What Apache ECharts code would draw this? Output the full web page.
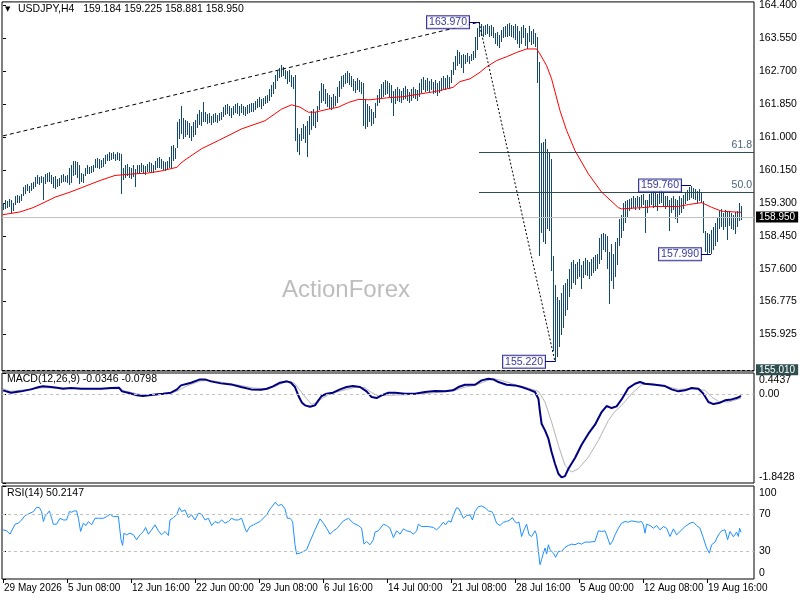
<!DOCTYPE html>
<html><head><meta charset="utf-8">
<script src="https://cdn.jsdelivr.net/npm/echarts@6/dist/echarts.min.js"></script>
<style>html,body{margin:0;padding:0;background:#fff}#c{width:800px;height:600px}</style>
</head><body><div id="c"></div>
<script>
// ---------- data ----------
const xTickBars = [0,32,64,96,128,160,192,224,256,288,320,352];
const xTickLabels = ['29 May 2026','5 Jun 08:00','12 Jun 16:00','22 Jun 00:00','29 Jun 08:00','6 Jul 16:00','14 Jul 00:00','21 Jul 08:00','28 Jul 16:00','5 Aug 00:00','12 Aug 08:00','19 Aug 16:00'];
const priceTicks = [164.4,163.55,162.7,161.85,161.0,160.15,159.3,158.45,157.6,156.775,155.925];
const macdTicks = [0.4437, 0, -1.8428];
const rsiTicks = [100, 70, 30, 0];
const rsiLevels = [70, 30];

const barHigh = [
159.32,159.40,159.36,159.42,159.38,159.30,159.48,159.52,159.50,159.55,
159.72,159.78,159.80,159.76,159.82,159.85,159.98,160.02,159.99,160.00,
159.98,160.05,160.08,160.10,160.04,159.98,160.00,159.92,159.95,160.02,
160.05,160.00,160.04,160.20,160.30,160.38,160.40,160.36,160.28,160.08,
160.05,160.22,160.28,160.25,160.26,160.30,160.44,160.48,160.45,160.42,
160.46,160.55,160.58,160.62,160.60,160.62,160.58,160.62,160.60,160.58,
160.22,160.30,160.32,160.25,160.20,160.28,160.18,160.30,160.28,160.34,
160.30,160.26,160.32,160.36,160.33,160.30,160.40,160.46,160.50,160.44,
160.40,160.36,160.38,160.50,160.78,160.80,160.72,161.40,161.48,161.82,
161.50,161.46,161.42,161.38,161.30,161.40,161.45,161.60,161.70,161.65,
161.92,161.65,161.60,161.62,161.55,161.60,161.64,161.58,161.62,161.66,
161.78,161.84,161.86,161.80,161.76,161.82,161.85,161.88,161.82,161.85,
161.80,161.78,161.84,161.86,161.90,161.88,161.94,162.00,162.05,161.98,
162.02,162.08,162.10,162.25,162.35,162.42,162.60,162.72,162.78,162.86,
162.82,162.75,162.70,162.74,162.62,162.55,162.62,161.25,161.10,161.25,
161.35,161.30,161.42,161.55,161.68,161.72,161.65,161.80,162.20,162.40,
162.38,162.25,162.15,162.10,162.05,162.12,162.08,162.30,162.45,162.58,
162.62,162.66,162.72,162.65,162.58,162.50,162.45,162.52,162.48,162.44,
162.40,162.00,161.85,161.80,161.72,161.65,161.88,162.10,162.25,162.38,
162.42,162.48,162.45,162.40,162.35,162.20,162.25,162.30,162.25,162.20,
162.28,162.32,162.25,162.18,162.24,162.30,162.26,162.22,162.40,162.50,
162.55,162.48,162.52,162.46,162.50,162.44,162.48,162.40,162.45,162.52,
162.58,162.54,162.60,162.56,162.75,162.95,163.10,163.25,163.20,163.12,
163.15,163.12,163.18,163.10,163.16,163.22,163.60,163.82,163.97,163.92,
163.88,163.90,163.92,163.86,163.90,163.84,163.70,163.72,163.65,163.78,
163.85,163.88,163.92,163.95,163.90,163.86,163.92,163.88,163.75,163.85,
163.90,163.82,163.70,163.88,163.75,163.80,163.70,163.60,162.95,160.85,
160.88,160.95,160.70,160.60,160.45,157.95,157.20,156.90,156.80,157.00,
157.20,157.25,157.35,157.60,157.80,157.85,157.75,157.80,157.88,157.70,
157.82,157.90,157.85,157.78,157.88,157.92,157.96,158.00,158.40,158.52,
158.55,158.50,158.45,158.05,158.25,158.00,158.30,158.40,158.90,159.00,
159.30,159.35,159.40,159.42,159.45,159.48,159.44,159.50,159.46,159.52,
159.55,159.38,159.40,159.55,159.60,159.62,159.58,159.55,159.62,159.65,
159.58,159.50,159.48,159.40,159.45,159.50,159.42,159.40,159.48,159.45,
159.52,159.58,159.65,159.72,159.76,159.70,159.66,159.62,159.68,159.60,
159.35,158.60,158.55,158.50,158.62,158.70,158.80,158.95,159.10,159.15,
159.05,159.12,159.08,159.10,159.05,159.00,159.08,159.10,159.30,159.225];

const barLow = [
159.12,159.15,159.18,159.20,159.06,159.10,159.25,159.32,159.30,159.35,
159.50,159.55,159.62,159.58,159.62,159.66,159.72,159.80,159.78,159.82,
159.38,159.80,159.85,159.86,159.80,159.70,159.66,159.72,159.74,159.82,
159.86,159.85,159.83,159.78,159.82,160.00,160.02,159.95,159.80,159.86,
159.82,160.00,160.05,160.05,160.08,160.10,160.20,160.22,160.18,160.20,
160.24,160.32,160.38,160.40,160.42,160.44,160.40,160.42,160.40,159.55,
159.90,159.95,160.00,159.96,159.92,159.98,159.72,160.05,160.08,160.10,
160.06,160.04,160.10,160.12,160.10,160.08,160.15,160.20,160.22,160.18,
160.15,160.14,160.16,160.20,160.22,160.40,160.45,160.74,160.95,161.10,
160.95,161.00,161.05,160.98,160.92,161.02,161.05,161.25,161.32,161.30,
161.40,161.40,161.35,161.38,161.32,161.36,161.40,161.38,161.42,161.45,
161.52,161.58,161.60,161.55,161.50,161.58,161.62,161.60,161.56,161.62,
161.58,161.55,161.60,161.64,161.66,161.65,161.70,161.75,161.78,161.74,
161.80,161.85,161.88,161.95,162.05,162.12,162.25,162.45,162.52,162.55,
162.58,162.50,162.38,162.42,162.30,162.25,160.90,160.62,160.55,160.90,
160.95,160.85,160.50,161.05,161.20,161.30,161.25,161.40,161.70,161.90,
161.95,161.85,161.78,161.72,161.70,161.75,161.80,161.90,162.05,162.25,
162.30,162.38,162.40,162.35,162.30,162.20,162.15,162.22,162.18,162.12,
161.30,161.22,161.28,161.40,161.30,161.35,161.50,161.80,161.90,162.00,
162.05,162.10,162.12,162.05,161.90,161.55,161.85,161.95,161.92,161.90,
161.96,162.00,161.94,161.88,161.95,162.02,161.98,161.95,162.05,162.15,
162.22,162.18,162.20,162.16,162.22,162.12,162.15,162.08,162.14,162.20,
162.25,162.22,162.28,162.24,162.40,162.60,162.75,162.85,162.88,162.80,
162.65,162.90,162.95,162.90,162.96,163.00,163.05,163.25,163.58,163.62,
163.60,163.64,163.66,163.60,163.62,163.56,163.40,163.35,163.30,163.45,
163.55,163.58,163.60,163.62,163.58,163.55,163.50,163.42,163.30,163.40,
163.55,163.35,163.28,163.45,163.38,163.40,163.32,162.40,157.95,158.55,
158.30,158.25,158.65,158.60,157.55,155.50,155.22,155.35,155.60,155.90,
156.10,156.40,156.55,156.90,157.10,157.25,157.20,157.35,157.40,157.10,
157.38,157.45,157.42,157.36,157.44,157.50,157.55,157.62,157.75,157.85,
158.10,158.05,157.60,156.70,157.30,157.10,157.40,157.70,158.20,158.40,
158.60,158.80,158.95,159.10,159.15,159.18,159.12,159.20,159.14,159.22,
159.25,158.55,159.05,159.22,159.25,159.18,159.20,159.10,159.28,159.30,
159.22,159.15,159.20,158.60,159.05,159.12,158.90,158.80,159.00,159.05,
159.15,159.28,159.35,159.40,159.45,159.42,159.38,159.32,159.36,159.30,
158.55,158.05,158.00,158.02,157.99,158.10,158.20,158.30,158.65,158.70,
158.62,158.70,158.35,158.72,158.65,158.62,158.50,158.70,158.85,158.881];

const maPoints = [[0,159.01],[8.5,159.08],[15,159.19],[20,159.31],[26,159.46],[33.5,159.59],[42,159.76],[48.5,159.89],[56,160.02],[65,160.06],[72,160.08],[78.5,160.13],[83.5,160.19],[87,160.23],[89,160.34],[91,160.42],[99.3,160.71],[107.7,160.92],[119.3,161.22],[131,161.43],[139.3,161.73],[144.3,161.84],[148.5,161.78],[152.7,161.65],[156,161.65],[162.7,161.73],[167.7,161.78],[172.7,161.90],[177.7,161.98],[183.5,161.97],[191.8,162.02],[200,162.05],[208.5,162.12],[216.8,162.19],[225,162.29],[228.5,162.44],[233.5,162.51],[238.5,162.68],[241.8,162.82],[246.8,162.98],[251.8,163.08],[256.8,163.19],[261.8,163.28],[266.8,163.28],[268.5,163.15],[271.8,162.85],[274.3,162.51],[278.5,161.69],[281.8,161.18],[286,160.66],[292.7,160.06],[299.3,159.59],[307.7,159.19],[309.3,159.16],[319.3,159.19],[326,159.22],[337.7,159.22],[342.7,159.27],[349.3,159.32],[354.3,159.20],[359.3,159.10],[369,159.07]];

const macdMain = [[0,0.083],[4,0.034],[9,0.062],[14,0.103],[18,0.152],[20,0.166],[24,0.152],[27,0.138],[30,0.117],[34,0.131],[39,0.117],[44,0.117],[49,0.117],[54,0.131],[58,0.138],[59.5,0.062],[63,0.027],[67,-0.021],[70,-0.035],[75,-0.008],[80,0.013],[84,0.034],[87,0.103],[89,0.186],[94,0.242],[98.5,0.311],[101,0.311],[104,0.270],[109,0.228],[114,0.207],[119,0.152],[124,0.103],[129,0.096],[132,0.117],[135,0.166],[138.5,0.242],[142,0.270],[144,0.242],[146,0.152],[148,-0.056],[149.5,-0.174],[151,-0.229],[153.5,-0.257],[156,-0.229],[157.7,-0.125],[159.3,-0.035],[161.8,0.013],[165,0.034],[168.5,0.103],[171.8,0.152],[175,0.173],[178.5,0.152],[181.8,0.062],[184.3,-0.056],[186.8,-0.077],[189.3,-0.021],[192.7,0.034],[196,0.034],[201,0.013],[206,0.013],[211,0.048],[216,0.069],[221,0.062],[225,0.083],[227.7,0.152],[231,0.2],[236,0.2],[239.3,0.29],[242.7,0.325],[245.2,0.311],[247.7,0.256],[251.8,0.2],[256,0.186],[259.3,0.152],[262.7,0.103],[266,0.048],[267.7,-0.091],[268.5,-0.368],[269.3,-0.611],[271,-0.749],[272.7,-0.922],[274.3,-1.2],[276,-1.442],[277.7,-1.65],[279.3,-1.726],[281,-1.699],[282.7,-1.546],[286,-1.324],[289.3,-1.047],[292.7,-0.818],[296,-0.631],[299.3,-0.368],[301.8,-0.243],[304.3,-0.285],[306.8,-0.25],[309.3,-0.105],[312.7,0.131],[316,0.221],[318.5,0.256],[321,0.221],[326,0.2],[331,0.173],[334.3,0.103],[337.7,0.062],[341,0.083],[344.3,0.131],[347.7,0.117],[350.2,0.013],[352.7,-0.16],[355.2,-0.202],[358.5,-0.174],[361,-0.125],[364.3,-0.105],[366.8,-0.077],[369,-0.035]];

const macdSignal = [[0,0.117],[3.5,0.062],[8.5,0.083],[15,0.117],[20,0.138],[32,0.131],[48.5,0.117],[57.7,0.117],[61.8,0.062],[66.8,0.013],[71.8,-0.021],[76.8,-0.008],[81.8,0.013],[86.8,0.062],[91.8,0.173],[98.5,0.277],[103.5,0.29],[111.8,0.235],[118.5,0.186],[125.2,0.131],[130.2,0.117],[135.2,0.152],[140.2,0.242],[143.5,0.27],[146,0.221],[148.5,0.083],[151.8,-0.091],[154.3,-0.208],[156.8,-0.174],[159.3,-0.091],[162.7,-0.008],[166.8,0.048],[171.8,0.103],[176.8,0.152],[181,0.138],[184.3,0.034],[187.7,-0.035],[191,-0.021],[202.7,-0.008],[216,0.034],[226,0.083],[231,0.152],[236,0.186],[241,0.27],[245.2,0.325],[249.3,0.29],[256,0.2],[262.7,0.131],[267.7,0.062],[271,-0.16],[274.3,-0.576],[277.7,-1.061],[281,-1.477],[284.3,-1.616],[287.7,-1.546],[292.7,-1.304],[297.7,-0.957],[302.7,-0.541],[306,-0.354],[309.3,-0.229],[314.3,0.013],[319.3,0.2],[324.3,0.221],[331,0.173],[337.7,0.103],[344.3,0.117],[351,0.083],[354.3,-0.056],[357.7,-0.146],[362.7,-0.16],[369,-0.08]];

const rsiPoints = [[0,52.9],[1.8,51.8],[3.5,48.2],[4.3,47.5],[6,58.9],[7.7,60.0],[9.3,63.5],[11,68.2],[13.5,70.7],[15.2,72.5],[16.8,77.1],[18.2,76.7],[19.3,72.5],[20.2,61.8],[21,67.1],[21.8,68.9],[23.2,73.2],[24.3,65.3],[25.2,58.9],[26.8,58.9],[28.5,65.3],[30.2,63.5],[31.8,63.5],[33.2,72.5],[34.3,71.8],[35.5,73.2],[36.8,73.2],[37.7,65.3],[38.8,51.1],[40.2,60.0],[41.5,57.5],[42.7,61.8],[44.3,58.2],[46,65.3],[47.7,65.3],[50.2,65.3],[51.8,67.1],[53.5,69.6],[55.2,67.1],[57.7,67.1],[58.5,65.3],[59,42.2],[59.8,36.1],[60.5,49.3],[61.8,47.5],[63.5,49.3],[65.2,47.5],[66.8,42.2],[68.5,47.5],[70.2,51.1],[71.3,55.4],[72.7,48.2],[74.3,52.9],[76,58.2],[77.7,51.8],[79.3,47.5],[81,51.1],[82.7,46.8],[83.5,63.5],[85.2,66.0],[86.8,68.9],[88.2,76.7],[89.3,72.5],[91,74.3],[92.7,66.0],[94.3,68.9],[96,63.5],[97.7,70.7],[99.3,69.6],[101,63.5],[102.7,65.3],[104.3,57.5],[106,61.8],[107.7,60.0],[109.3,63.5],[111,60.0],[112.7,61.8],[114.3,65.3],[116,63.5],[117.7,63.5],[119.3,65.3],[121,54.6],[121.8,50.4],[123.5,56.4],[125.2,58.2],[128.5,61.8],[131.8,68.9],[133.5,75.3],[135.2,79.6],[136,82.5],[137.7,78.9],[139.3,80.3],[141,75.3],[142.2,65.3],[143.5,65.3],[144.8,61.8],[146,36.8],[146.8,26.8],[148.5,27.9],[150.2,29.7],[151.8,31.5],[153.5,40.4],[156,52.9],[158.5,64.6],[160.2,60.0],[161.8,54.6],[163.5,48.2],[165.2,51.8],[166.8,53.9],[168.5,58.2],[170.2,62.5],[172.7,65.3],[175.2,60.0],[177.7,57.5],[179.3,54.6],[180.5,37.5],[181.8,40.4],[183.5,36.8],[185.2,42.2],[186,50.4],[187.7,51.8],[190.2,58.9],[191.8,57.5],[193.5,54.6],[195.2,44.6],[196.8,51.8],[198.5,48.2],[200.2,53.9],[201.8,51.8],[203.5,51.1],[205.2,48.2],[206.8,51.8],[207.7,58.9],[209.3,56.4],[212.7,56.4],[215.2,55.4],[216.8,52.9],[218.5,56.4],[220.2,61.1],[221.3,58.2],[222.7,62.5],[224,61.1],[225.2,68.9],[226.8,76.7],[228,75.3],[229,74.3],[230.2,65.3],[231.8,68.2],[233.5,68.9],[234.7,63.5],[236,72.5],[237.7,77.8],[239.3,78.5],[241,76.7],[242.7,73.2],[244.3,72.5],[245.2,69.6],[246.8,60.0],[248.5,57.5],[250.2,61.1],[251.8,61.8],[253.5,63.5],[254.7,66.0],[255.7,62.5],[256.8,60.0],[258,61.1],[259.3,45.7],[260.7,53.9],[261.8,58.9],[263,47.5],[264.3,45.7],[266,51.8],[266.8,47.5],[267.7,29.7],[268.5,15.4],[269.3,20.8],[270.2,27.9],[271,33.3],[271.8,26.8],[272.7,36.8],[273.5,31.5],[275.2,27.9],[276.3,23.3],[277.7,29.7],[279.3,29.7],[281,34.0],[282.7,36.1],[284.3,37.5],[286,36.8],[287.7,38.6],[289.3,37.5],[291,39.7],[293.5,39.7],[296,40.4],[297.7,51.8],[299.3,51.1],[301,51.8],[301.8,47.5],[303.5,36.8],[304.7,40.4],[306,47.5],[307.7,54.6],[309.3,60.0],[311,61.8],[312.7,61.1],[314.3,62.5],[316,61.8],[317.7,61.1],[319.3,61.8],[320.2,58.2],[321,49.3],[321.8,58.9],[323.5,57.5],[325.2,54.6],[326.8,57.5],[328.5,52.9],[330.2,56.4],[331.8,54.6],[333.5,45.7],[335.2,53.9],[336.8,47.5],[338.5,51.1],[341,56.4],[343.5,60.0],[345.2,61.1],[346.8,57.5],[348.5,54.6],[350.2,43.9],[351.8,33.3],[353.2,27.9],[354.3,36.8],[356,39.7],[357.7,47.5],[359.3,51.8],[361,52.9],[362.3,42.2],[363.5,51.1],[365.2,45.4],[366.8,50.4],[367.7,45.7],[368.3,54.6],[369,50.2]];

const lastPrice = 158.95;
const supportLevel = 155.01;
const swingHigh = [238, 163.97];
const swingLow = [276, 155.22];
const trendStart = [0, 161.04];
const fibRatios = [61.8, 50.0];
// labelled swing points: [box edge bar, price bar, price, text]
const swingLabels = [[233, 238, 163.97, '163.970'], [271, 276, 155.22, '155.220'], [339, 344, 159.76, '159.760'], [349, 354, 157.99, '157.990']];

// ---------- chart ----------
const FONT = "'Liberation Sans', Arial, sans-serif";
const FS = 10.5;
const FSX = 10;
const BAR_COLOR = '#134a6c';
const X_MIN = -0.5, X_MAX = 375.5;

const barData = barHigh.map((h, i) => [i, barLow[i], h]);
const fibPrice = r => swingLow[1] + r / 100 * (swingHigh[1] - swingLow[1]);

function xAxis(grid, showLabels) {
  return {
    type: 'value', gridIndex: grid, min: X_MIN, max: X_MAX,
    axisLine: { show: false }, splitLine: { show: false },
    axisTick: { show: showLabels, customValues: xTickBars, length: 4, lineStyle: { color: '#000' } },
    axisLabel: {
      show: showLabels, customValues: xTickBars, align: 'left', margin: 4, padding: [0, 0, 0, 1],
      color: '#000', fontSize: FSX, fontFamily: FONT,
      formatter: v => xTickLabels[xTickBars.indexOf(Math.round(v))] || ''
    }
  };
}
const lblStyle = { color: '#000', fontSize: FS, fontFamily: FONT };
function edgeRich() {
  return { t: Object.assign({ padding: [15, 0, 0, 0] }, lblStyle), b: Object.assign({ padding: [0, 0, 12, 0] }, lblStyle) };
}
const priceBox = { show: true, position: 'end', distance: 2, color: '#fff', padding: [1, 3, 0, 3], lineHeight: 10, fontSize: 10, fontFamily: FONT };

const option = {
  animation: false,
  backgroundColor: '#fff',
  grid: [
    { left: 2, top: 1, width: 752, height: 370, show: true, borderColor: '#000', borderWidth: 1, backgroundColor: 'transparent' },
    { left: 2, top: 373, width: 752, height: 110, show: true, borderColor: '#000', borderWidth: 1, backgroundColor: 'transparent' },
    { left: 2, top: 486, width: 752, height: 93, show: true, borderColor: '#000', borderWidth: 1, backgroundColor: 'transparent' }
  ],
  xAxis: [xAxis(0, false), xAxis(1, false), xAxis(2, true)],
  yAxis: [
    { type: 'value', gridIndex: 0, position: 'right', min: 154.981, max: 164.4925, splitLine: { show: false },
      axisLine: { show: false },
      axisTick: { show: true, customValues: priceTicks, length: 3, lineStyle: { color: '#000' } },
      axisLabel: Object.assign({ customValues: priceTicks, margin: 5, formatter: v => v.toFixed(3) }, lblStyle) },
    { type: 'value', gridIndex: 1, position: 'right', min: macdTicks[2], max: macdTicks[0], splitLine: { show: false },
      axisLine: { show: false },
      axisTick: { show: true, customValues: macdTicks, length: 3, lineStyle: { color: '#000' } },
      axisLabel: Object.assign({ customValues: macdTicks, margin: 5, rich: edgeRich(),
        formatter: v => Math.abs(v - macdTicks[0]) < 1e-9 ? '{t|' + v.toFixed(4) + '}' : Math.abs(v - macdTicks[2]) < 1e-9 ? '{b|' + v.toFixed(4) + '}' : v.toFixed(2) }, lblStyle) },
    { type: 'value', gridIndex: 2, position: 'right', min: 0, max: 100, splitLine: { show: false },
      axisLine: { show: false },
      axisTick: { show: true, customValues: rsiTicks, length: 3, lineStyle: { color: '#000' } },
      axisLabel: Object.assign({ customValues: rsiTicks, margin: 5, rich: edgeRich(),
        formatter: v => v === 100 ? '{t|100}' : v === 0 ? '{b|0}' : String(v) }, lblStyle) }
  ],
  graphic: [
    { type: 'text', left: 5, top: 6, style: { text: '▼', fontSize: 7, fill: '#000', fontFamily: 'DejaVu Sans' } },
    { type: 'text', left: 18, top: 4, style: { text: 'USDJPY,H4   159.184 159.225 158.881 158.950', fontSize: FS, fill: '#000', fontFamily: FONT } },
    { type: 'text', left: 282, top: 278, z: 0, style: { text: 'ActionForex', fontSize: 24, fill: '#bdbdbd', fontFamily: FONT } },
    { type: 'text', left: 7, top: 374, style: { text: 'MACD(12,26,9) -0.0346 -0.0798', fontSize: FS, fill: '#000', fontFamily: FONT } },
    { type: 'text', left: 7, top: 488, style: { text: 'RSI(14) 50.2147', fontSize: FS, fill: '#000', fontFamily: FONT } }
  ],
  series: [
    { name: 'bars', type: 'custom', xAxisIndex: 0, yAxisIndex: 0, data: barData, z: 3, clip: true,
      encode: { x: 0, y: [1, 2] },
      renderItem: function (params, api) {
        const i = api.value(0);
        const top = api.coord([i, api.value(2)]);
        const bot = api.coord([i, api.value(1)]);
        const y1 = Math.round(top[1]), y2 = Math.round(bot[1]);
        return { type: 'rect', shape: { x: Math.floor(top[0]), y: y1, width: 1, height: Math.max(1, y2 - y1) }, style: { fill: BAR_COLOR } };
      } },
    { name: 'MA', type: 'line', xAxisIndex: 0, yAxisIndex: 0, data: maPoints, showSymbol: false, symbol: 'none', z: 4,
      lineStyle: { color: '#ff0000', width: 1 } },
    { name: 'trend', type: 'line', xAxisIndex: 0, yAxisIndex: 0, data: [trendStart, swingHigh], symbol: 'none', z: 4,
      lineStyle: { color: '#000', width: 1, type: [4, 3] } },
    { name: 'zigzag', type: 'line', xAxisIndex: 0, yAxisIndex: 0, data: [swingHigh, swingLow], symbol: 'none', z: 12, clip: false,
      lineStyle: { color: '#000', width: 1, type: [2, 2] },
      markLine: {
        silent: true, symbol: ['none', 'none'], animation: false,
        data: fibRatios.map(r => [
          { coord: [swingHigh[0], fibPrice(r)], lineStyle: { color: '#2f4f4f', width: 1, type: 'solid' },
            label: { show: true, position: 'insideEndTop', distance: [2, 1], formatter: r.toFixed(1), color: '#4a6478', fontSize: FS, fontFamily: FONT } },
          { coord: [X_MAX, fibPrice(r)] }
        ]).concat([
          { yAxis: lastPrice, lineStyle: { color: '#c0c0c0', width: 1, type: 'solid' },
            label: Object.assign({}, priceBox, { formatter: lastPrice.toFixed(3), backgroundColor: '#000' }) },
          { yAxis: supportLevel, lineStyle: { color: '#000', width: 1, type: [3, 2] },
            label: Object.assign({}, priceBox, { formatter: supportLevel.toFixed(3), backgroundColor: '#2f4f4f' }) }
        ])
      } },
    { name: 'swingLabels', type: 'scatter', xAxisIndex: 0, yAxisIndex: 0, z: 10, clip: false,
      data: swingLabels.map(s => ({ value: [s[0], s[2]], name: s[3] })), symbolSize: 0,
      label: { show: true, position: 'left', distance: 0, formatter: p => p.name, color: '#000080', backgroundColor: '#fff',
        borderColor: '#000080', borderWidth: 1, padding: [1, 2, 0, 2], fontSize: 10.5, fontFamily: FONT },
      markLine: { silent: true, symbol: ['none', 'none'], label: { show: false }, lineStyle: { color: '#000080', width: 1, type: 'solid' },
        data: swingLabels.map(s => [{ coord: [s[0], s[2]] }, { coord: [s[1], s[2]] }]) } },
    { name: 'MACD', type: 'line', xAxisIndex: 1, yAxisIndex: 1, data: macdMain, symbol: 'none', z: 4,
      lineStyle: { color: '#000080', width: 2 } },
    { name: 'Signal', type: 'line', xAxisIndex: 1, yAxisIndex: 1, data: macdSignal, symbol: 'none', z: 3,
      lineStyle: { color: '#b4b4b4', width: 1 },
      markLine: { silent: true, symbol: ['none', 'none'], label: { show: false }, lineStyle: { color: '#c0c0c0', width: 1, type: [3, 3] },
        data: [{ yAxis: 0 }] } },
    { name: 'RSI', type: 'line', xAxisIndex: 2, yAxisIndex: 2, data: rsiPoints, symbol: 'none', z: 4,
      lineStyle: { color: '#1e90ff', width: 1 },
      markLine: { silent: true, symbol: ['none', 'none'], label: { show: false }, lineStyle: { color: '#c0c0c0', width: 1, type: [3, 3] },
        data: rsiLevels.map(v => ({ yAxis: v })) } }
  ]
};
const chart = echarts.init(document.getElementById('c'), null, { renderer: 'canvas' });
chart.setOption(option);
</script></body></html>
